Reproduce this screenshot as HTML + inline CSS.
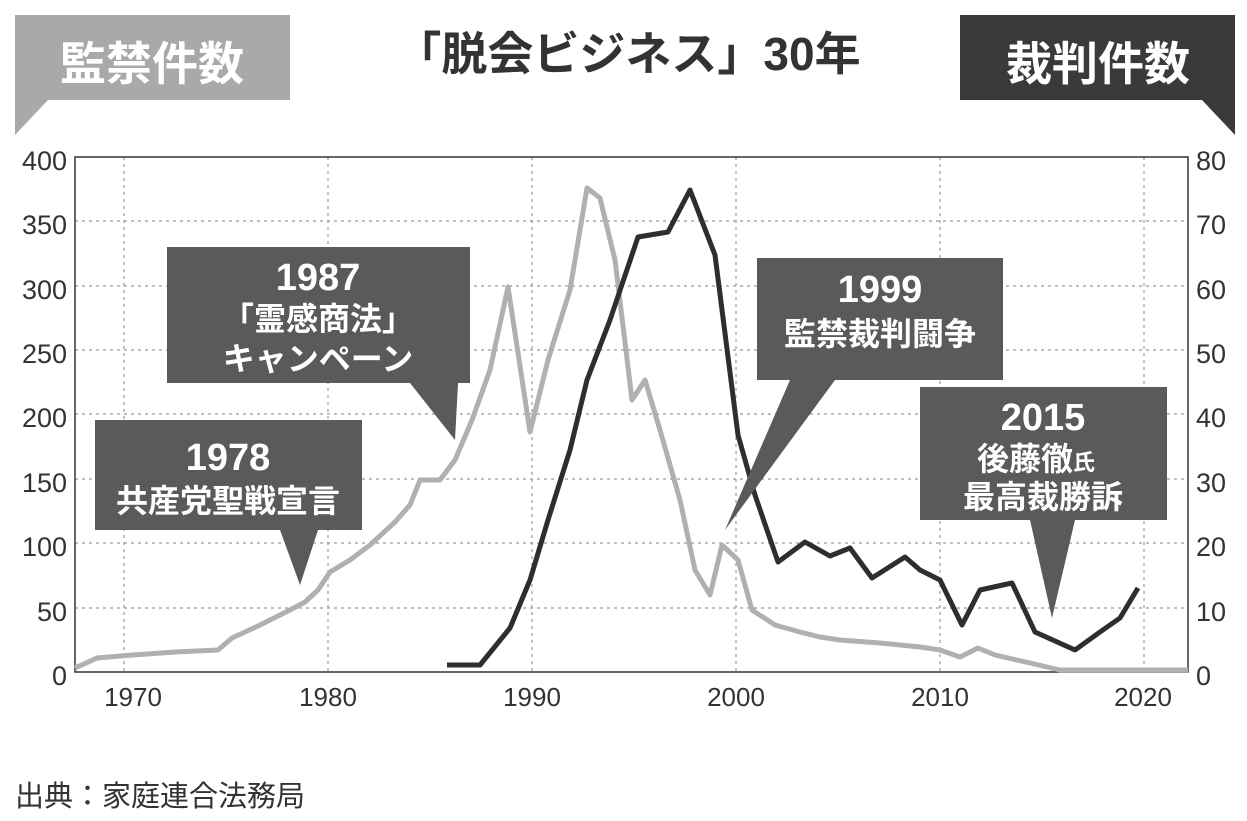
<!DOCTYPE html><html><head><meta charset="utf-8"><style>
body{margin:0;width:1247px;height:816px;background:#fff;overflow:hidden}
svg text{font-family:"Liberation Sans","Noto Sans CJK JP",sans-serif}
</style></head><body>
<svg width="1247" height="816" viewBox="0 0 1247 816">
<rect width="1247" height="816" fill="#fff"/>
<polygon points="15,15 290,15 290,100 48,100 15,135" fill="#a9a9a9"/>
<text x="152" y="80" font-size="46" font-weight="bold" fill="#fff" text-anchor="middle">監禁件数</text>
<polygon points="960,15 1235,15 1235,135 1202,100 960,100" fill="#3a3a3a"/>
<text x="1098" y="80" font-size="46" font-weight="bold" fill="#fff" text-anchor="middle">裁判件数</text>
<text x="628" y="70" font-size="46" font-weight="bold" fill="#333" text-anchor="middle">「脱会ビジネス」30年</text>
<g stroke="#999" stroke-width="1.2" stroke-dasharray="3,4">
<line x1="75" y1="221" x2="1188" y2="221"/><line x1="75" y1="286" x2="1188" y2="286"/>
<line x1="75" y1="350" x2="1188" y2="350"/><line x1="75" y1="414" x2="1188" y2="414"/>
<line x1="75" y1="479" x2="1188" y2="479"/><line x1="75" y1="543" x2="1188" y2="543"/>
<line x1="75" y1="608" x2="1188" y2="608"/>
<line x1="124" y1="157" x2="124" y2="672"/><line x1="328" y1="157" x2="328" y2="672"/>
<line x1="532" y1="157" x2="532" y2="672"/><line x1="736" y1="157" x2="736" y2="672"/>
<line x1="940" y1="157" x2="940" y2="672"/><line x1="1144" y1="157" x2="1144" y2="672"/>
</g>
<rect x="75" y="157" width="1113" height="515" fill="none" stroke="#333" stroke-width="1.5"/>
<g font-size="27" fill="#333" text-anchor="end">
<text x="67" y="170">400</text><text x="67" y="234">350</text><text x="67" y="299">300</text>
<text x="67" y="363">250</text><text x="67" y="427">200</text><text x="67" y="492">150</text>
<text x="67" y="556">100</text><text x="67" y="621">50</text><text x="67" y="685">0</text>
</g>
<g font-size="27" fill="#333" text-anchor="start">
<text x="1196" y="170">80</text><text x="1196" y="234">70</text><text x="1196" y="299">60</text>
<text x="1196" y="363">50</text><text x="1196" y="427">40</text><text x="1196" y="492">30</text>
<text x="1196" y="556">20</text><text x="1196" y="621">10</text><text x="1196" y="685">0</text>
</g>
<g font-size="26" fill="#333" text-anchor="middle">
<text x="133" y="706">1970</text><text x="328" y="706">1980</text><text x="532" y="706">1990</text>
<text x="736" y="706">2000</text><text x="940" y="706">2010</text><text x="1143" y="706">2020</text>
</g>
<polyline fill="none" stroke="#b0b0b0" stroke-width="5" stroke-linejoin="round" points="75,668 97,658 133,655 175,652 218,650 232,638 260,625 290,610 305,602 318,590 330,572 350,560 370,545 395,522 410,505 420,480 440,480 455,460 472,420 490,370 508,287 530,432 548,360 570,290 587,188 600,198 615,260 632,400 645,380 660,430 680,500 695,570 710,595 722,545 738,560 752,610 775,625 800,632 820,637 840,640 880,643 920,647 940,650 960,657 978,648 995,655 1030,663 1060,670 1188,670"/>
<polyline fill="none" stroke="#2e2e2e" stroke-width="5" stroke-linejoin="round" points="447,665 480,665 510,628 530,580 548,520 570,450 587,380 610,320 638,237 668,232 690,190 715,255 738,435 755,495 778,562 805,542 830,556 850,548 872,578 905,557 920,570 940,580 962,625 980,590 1012,583 1035,632 1075,650 1100,632 1120,618 1138,588"/>
<g fill="#5a5a5a">
<polygon points="95,420 362,420 362,530 318,530 300,585 280,530 95,530"/>
<polygon points="167,247 470,247 470,383 458,383 455,440 410,383 167,383"/>
<polygon points="757,258 1003,258 1003,380 835,380 725,530 790,380 757,380"/>
<polygon points="920,387 1167,387 1167,520 1075,520 1052,618 1030,520 920,520"/>
</g>
<g fill="#fff" font-weight="bold" text-anchor="middle">
<text x="228" y="470" font-size="38">1978</text>
<text x="228" y="512" font-size="32">共産党聖戦宣言</text>
<text x="318" y="290" font-size="38">1987</text>
<text x="318" y="330" font-size="32">「霊感商法」</text>
<text x="318" y="370" font-size="32">キャンペーン</text>
<text x="880" y="302" font-size="38">1999</text>
<text x="880" y="345" font-size="32">監禁裁判闘争</text>
<text x="1043" y="430" font-size="38">2015</text>
<text x="1036" y="470" font-size="32">後藤徹<tspan font-size="22">氏</tspan></text>
<text x="1043" y="508" font-size="32">最高裁勝訴</text>
</g>
<text x="15" y="806" font-size="29" fill="#333">出典：家庭連合法務局</text>
</svg></body></html>
